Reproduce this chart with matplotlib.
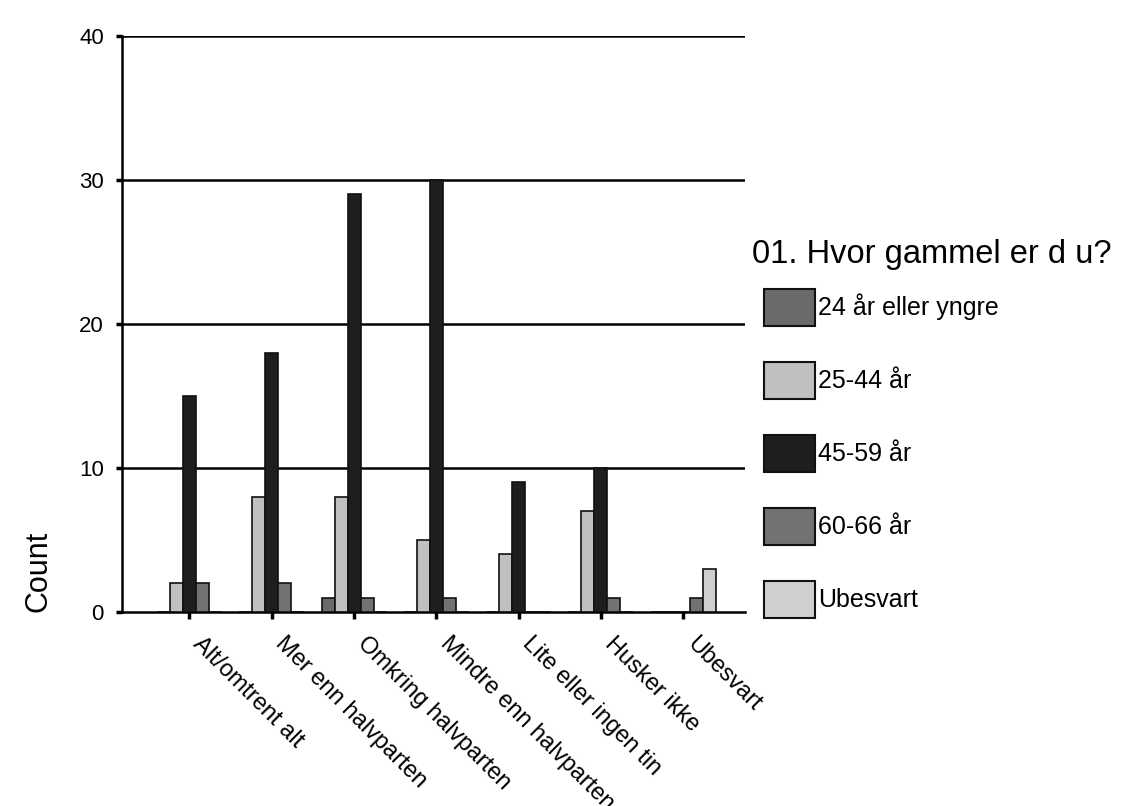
import matplotlib.pyplot as plt
import numpy as np
from matplotlib.patches import Patch

plt.rcParams['font.family'] = ['Liberation Sans', 'DejaVu Sans']

categories = ["Alt/omtrent alt", "Mer enn halvparten", "Omkring halvparten",
              "Mindre enn halvparten", "Lite eller ingen tin", "Husker ikke", "Ubesvart"]
groups = ["24 år eller yngre", "25-44 år", "45-59 år", "60-66 år", "Ubesvart"]
counts = {
    "24 år eller yngre": [0, 0, 1, 0, 0, 0, 0],
    "25-44 år":          [2, 8, 8, 5, 4, 7, 0],
    "45-59 år":          [15, 18, 29, 30, 9, 10, 0],
    "60-66 år":          [2, 2, 1, 1, 0, 1, 1],
    "Ubesvart":          [0, 0, 0, 0, 0, 0, 3],
}
colors = ["#6a6a6a", "#c0c0c0", "#1e1e1e", "#727272", "#cfcfcf"]

fig = plt.figure(figsize=(11.25, 8.06), dpi=100)
ax = fig.add_axes([0.1084, 0.2407, 0.5538, 0.7146])

x = np.arange(len(categories))
w = 0.158
for i, g in enumerate(groups):
    ax.bar(x + (i - 2) * w, counts[g], width=w, color=colors[i],
           edgecolor="#111111", linewidth=1.2, zorder=3)

ax.set_xlim(-0.82, 6.75)
ax.set_ylim(0, 40)
ax.set_yticks([0, 10, 20, 30, 40])
ax.set_yticklabels(["0", "10", "20", "30", "40"], fontsize=16)
for yv in [10, 20, 30, 40]:
    ax.axhline(yv, color="black", linewidth=1.8, zorder=1)

# category names hang diagonally from each tick
ax.set_xticks(x)
ax.set_xticklabels([])
for xi, name in zip(x, categories):
    ax.annotate(name, xy=(xi, 0), xycoords=("data", "axes fraction"),
                xytext=(10.8, -15), textcoords="offset points",
                rotation=-45, rotation_mode="anchor", ha="left", va="top",
                fontsize=17, annotation_clip=False)
ax.tick_params(axis="x", length=5, width=2.5)
ax.tick_params(axis="y", length=4, width=2.5, pad=9)

for s in ["top", "right"]:
    ax.spines[s].set_visible(False)
ax.spines["left"].set_linewidth(1.8)
ax.spines["bottom"].set_linewidth(1.8)

ax.set_ylabel("Count", fontsize=22)
ax.yaxis.set_label_coords(-0.11, 0.07)

# legend: title as its own text, entries below it
fig.text(0.668, 1 - 255 / 806, "01. Hvor gammel er d u?", fontsize=23.5,
         ha="left", va="center")
handles = [Patch(facecolor=c, edgecolor="#111111", linewidth=1.5) for c in colors]
leg = fig.legend(handles, groups, loc="upper left",
                 bbox_to_anchor=(0.679, 1 - 289 / 806),
                 frameon=False, fontsize=18, borderpad=0,
                 handlelength=2.04, handleheight=1.87, handletextpad=0.12,
                 labelspacing=1.46, borderaxespad=0)

fig.savefig("out.png", dpi=100)
